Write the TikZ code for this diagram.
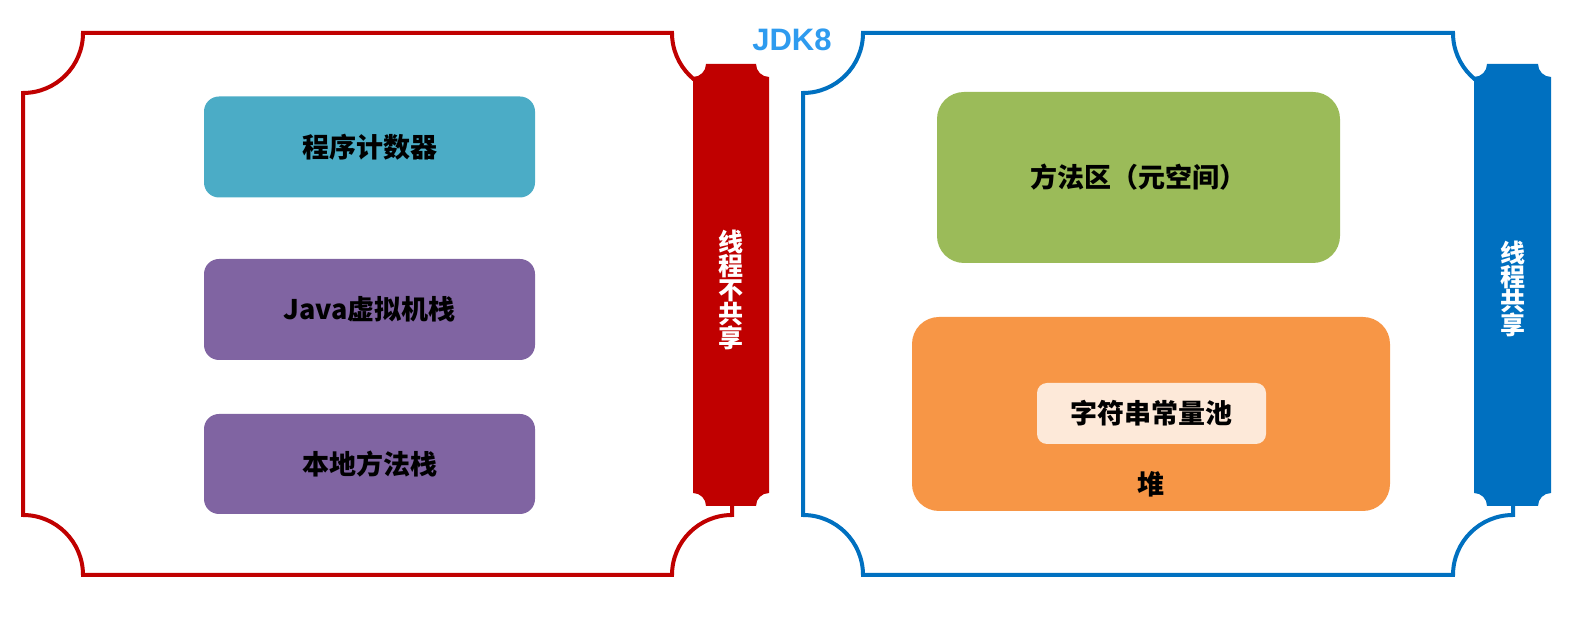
\documentclass[tikz,border=0pt]{standalone}
\usepackage{fontspec}
\usepackage{tikz}
\usetikzlibrary{calc}
\newfontfamily\cjk{Noto Sans CJK SC}
\newfontfamily\latin{Liberation Sans}
\definecolor{frameRed}{HTML}{C00000}
\definecolor{frameBlue}{HTML}{0070C0}
\definecolor{jdkBlue}{HTML}{2E9BEF}
\definecolor{pcTeal}{HTML}{4BACC6}
\definecolor{stackPurple}{HTML}{8064A2}
\definecolor{methodGreen}{HTML}{9BBB59}
\definecolor{heapOrange}{HTML}{F79646}
\definecolor{poolPeach}{HTML}{FDE9D9}
% concave-corner outline: x1,y1,x2,y2,r
\newcommand{\plaque}[5]{({#1},{#4-#5}) arc[start angle=270,end angle=360,radius=#5]
  -- ({#3-#5},{#4}) arc[start angle=180,end angle=270,radius=#5]
  -- ({#3},{#2+#5}) arc[start angle=90,end angle=180,radius=#5]
  -- ({#1+#5},{#2}) arc[start angle=0,end angle=90,radius=#5] -- cycle}
\tikzset{
  area/.style={rounded corners=15pt, minimum width=331pt, minimum height=101pt,
    font=\cjk\bfseries\fontsize{27}{30}\selectfont, inner sep=0pt},
  bartext/.style={text=white, align=center, font=\cjk\bfseries\fontsize{25}{24}\selectfont},
}

\begin{document}
\begin{tikzpicture}[x=1pt,y=1pt]
  \useasboundingbox (0,0) rectangle (1588,618);
  % frames
  \draw[frameRed, line width=4pt] \plaque{23}{43}{732}{585}{60};
  \draw[frameBlue, line width=4pt] \plaque{803}{43}{1513}{585}{60};
  % bars
  \fill[frameRed] \plaque{693}{112}{769}{554}{13};
  \fill[frameBlue] \plaque{1474}{112}{1551}{554}{13};
  \node[bartext] (unshared) at (731,328) {线\\程\\不\\共\\享};
  \node[bartext] (shared) at (1512.5,329) {线\\程\\共\\享};
  \node[text=jdkBlue, font=\latin\bfseries\fontsize{31}{34}\selectfont] (jdk) at (792,578) {JDK8};
  % thread private
  \node[area, fill=pcTeal] (pc) at (369.5,471) {程序计数器};
  \node[area, fill=stackPurple] (jvmstack) at (369.5,308.5) {Java虚拟机栈};
  \node[area, fill=stackPurple, minimum height=100pt] (nativestack) at (369.5,154) {本地方法栈};
  % shared
  \node[area, rounded corners=27pt, fill=methodGreen, minimum width=403pt, minimum height=171pt] (method) at (1138.5,440.5) {方法区（元空间）};
  \node[area, rounded corners=27pt, fill=heapOrange, minimum width=478pt, minimum height=194pt] (heap) at (1151,204) {};
  \node[area, rounded corners=10pt, fill=poolPeach, minimum width=229pt, minimum height=61pt] (pool) at (1151.5,204.5) {字符串常量池};
  \node[font=\cjk\bfseries\fontsize{27}{30}\selectfont] (heaplabel) at (1151,134) {堆};
\end{tikzpicture}
\end{document}
